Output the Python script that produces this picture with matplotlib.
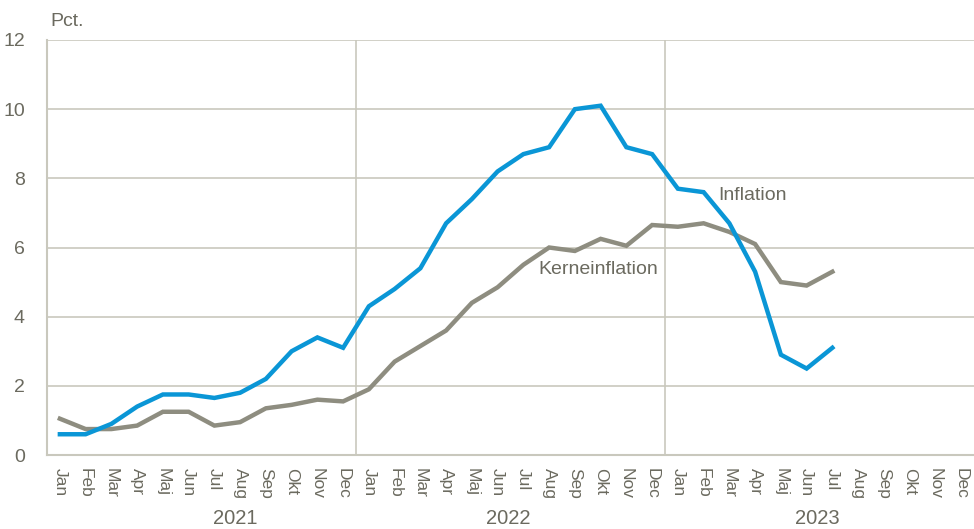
import matplotlib
matplotlib.use("Agg")
import matplotlib.pyplot as plt
from matplotlib import font_manager

months = ["Jan", "Feb", "Mar", "Apr", "Maj", "Jun", "Jul", "Aug", "Sep", "Okt", "Nov", "Dec"]
years = ["2021", "2022", "2023"]
tick_labels = months * 3

inflation = [0.6, 0.6, 0.9, 1.4, 1.75, 1.75, 1.65, 1.8, 2.2, 3.0, 3.4, 3.1,
             4.3, 4.8, 5.4, 6.7, 7.4, 8.2, 8.7, 8.9, 10.0, 10.1, 8.9, 8.7,
             7.7, 7.6, 6.7, 5.3, 2.9, 2.5, 3.1]
kerne = [1.05, 0.75, 0.75, 0.85, 1.25, 1.25, 0.85, 0.95, 1.35, 1.45, 1.6, 1.55,
         1.9, 2.7, 3.15, 3.6, 4.4, 4.85, 5.5, 6.0, 5.9, 6.25, 6.05, 6.65,
         6.6, 6.7, 6.45, 6.1, 5.0, 4.9, 5.3]

names = {f.name for f in font_manager.fontManager.ttflist}
narrow = "Liberation Sans Narrow" if "Liberation Sans Narrow" in names else "Liberation Sans"
regular = "Liberation Sans"

TXT = "#6b6a5f"
GRID = "#c9c8bd"
BLUE = "#0a96d6"
GREY = "#8e8d80"

fig = plt.figure(figsize=(9.74, 5.29), dpi=100)
ax = fig.add_axes([47/974, 1-455/529, 927/974, 415/529])

x = list(range(len(inflation)))
ax.plot(x, kerne, color=GREY, lw=3.2, solid_joinstyle="miter", zorder=3)
ax.plot(x, inflation, color=BLUE, lw=3.2, solid_joinstyle="miter", zorder=4)

ax.set_xlim(-0.5, 35.5)
ax.set_ylim(0, 12)
ax.set_yticks(range(0, 13, 2))
ax.yaxis.grid(True, color=GRID, lw=1.2)
for xv in (11.5, 23.5):
    ax.axvline(xv, color=GRID, lw=1.2, zorder=1)
ax.set_axisbelow(True)

for s in ("top", "right"):
    ax.spines[s].set_visible(False)
for s in ("left", "bottom"):
    ax.spines[s].set_color(GRID)
    ax.spines[s].set_linewidth(1.5)

ax.set_xticks(range(36))
ax.set_xticklabels(tick_labels, rotation=270, fontsize=12.5, color=TXT, family=regular)
ax.tick_params(axis="x", length=0, pad=9)
ax.tick_params(axis="y", length=0, pad=16, labelsize=14, labelcolor=TXT)
for lab in ax.get_yticklabels():
    lab.set_family(narrow)

year_pos = [6.8, 17.4, 29.4]
for yp, yl in zip(year_pos, years):
    ax.text(yp, -1.85, yl, ha="center", va="center", fontsize=14.5, color=TXT,
            family=narrow, clip_on=False)

fig.text(50/974, 1-22/529, "Pct.", ha="left", va="center", fontsize=14, color=TXT, family=narrow)

ax.text(26.9, 7.5, "Inflation", ha="center", va="center", fontsize=14, color=TXT, family=narrow)
ax.text(20.9, 5.35, "Kerneinflation", ha="center", va="center", fontsize=14, color=TXT, family=narrow)

fig.savefig("out.png", dpi=100)
